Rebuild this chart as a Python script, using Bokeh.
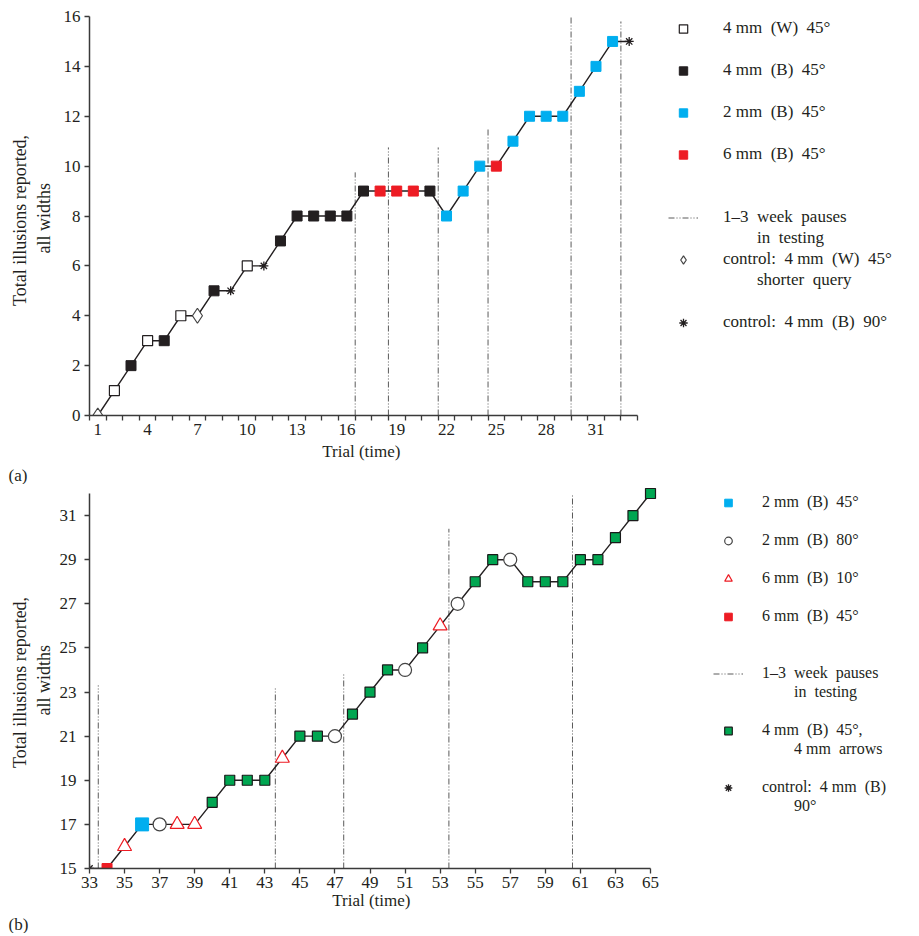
from bokeh.plotting import figure
from bokeh.models import ColumnDataSource, FixedTicker, Legend, LegendItem, Range1d
from bokeh.layouts import column
from bokeh.embed import file_html
from bokeh.resources import INLINE

FONT = "Liberation Serif"
INK = "#231f20"
AXIS = "#3a3a3a"
PAUSE = "#5a5a5a"

# ---------------- panel (a) data ----------------
trials_a = list(range(1, 34))
totals_a = [0, 1, 2, 3, 3, 4, 4, 5, 5, 6,
            6, 7, 8, 8, 8, 8, 9, 9, 9, 9,
            9, 8, 9, 10, 10, 11, 12, 12, 12, 13,
            14, 15, 15]
cond_a = ["ctrlW", "4W", "4B", "4W", "4B", "4W", "ctrlW", "4B", "ctrl90", "4W",
          "ctrl90", "4B", "4B", "4B", "4B", "4B", "4B", "6B", "6B", "6B",
          "4B", "2B", "2B", "2B", "6B", "2B", "2B", "2B", "2B", "2B",
          "2B", "2B", "ctrl90"]
pause_a_x = [16.5, 18.5, 21.5, 24.5, 29.5, 32.5]
pause_a_top = [9.75, 10.75, 10.75, 11.5, 16.0, 15.8]
xticks_a = [1, 4, 7, 10, 13, 16, 19, 22, 25, 28, 31]
yticks_a = [0, 2, 4, 6, 8, 10, 12, 14, 16]
xbounds_a = (0.5, 33.5)
ybounds_a = (0, 16)

# ---------------- panel (b) data ----------------
trials_b = list(range(33, 66))
totals_b = [15, 15, 16, 17, 17, 17, 17, 18, 19, 19,
            19, 20, 21, 21, 21, 22, 23, 24, 24, 25,
            26, 27, 28, 29, 29, 28, 28, 28, 29, 29,
            30, 31, 32]
cond_b = ["ctrl90", "6B45", "6B10", "2B45", "2B80", "6B10", "6B10", "arrows", "arrows", "arrows",
          "arrows", "6B10", "arrows", "arrows", "2B80", "arrows", "arrows", "arrows", "2B80", "arrows",
          "6B10", "2B80", "arrows", "arrows", "2B80", "arrows", "arrows", "arrows", "arrows", "arrows",
          "arrows", "arrows", "arrows"]
pause_b_x = [33.5, 43.6, 47.5, 53.5, 60.55]
pause_b_top = [23.3, 23.25, 23.8, 30.4, 32.0]
xticks_b = list(range(33, 66, 2))
yticks_b = list(range(15, 32, 2))
xbounds_b = (33, 65)
ybounds_b = (15, 32)

NB = "\u00a0"
IND = NB * 8

styles_a = {
    "4W": dict(marker="square", size=10, fill_color="white", line_color=INK, line_width=1.2),
    "4B": dict(marker="square", size=10, fill_color=INK, line_color=INK),
    "2B": dict(marker="square", size=10, fill_color="#00AEEF", line_color="#00AEEF"),
    "6B": dict(marker="square", size=10, fill_color="#ED1C24", line_color="#ED1C24"),
    "ctrlW": dict(marker="diamond", size=15, fill_color="white", line_color="#444444", line_width=1.2),
    "ctrl90": dict(marker="asterisk", size=9, line_color=INK, line_width=1.3),
}
# legend rows: (key of the glyph or None, label); "" rows are blank gaps
legend_a = [
    ("4W", "4 mm  (W)  45°"), (None, ""),
    ("4B", "4 mm  (B)  45°"), (None, ""),
    ("2B", "2 mm  (B)  45°"), (None, ""),
    ("6B", "6 mm  (B)  45°"), (None, ""), (None, ""),
    ("pause", "1–3  week  pauses"), (None, IND + "in  testing"),
    ("ctrlW", "control:  4 mm  (W)  45°"), (None, IND + "shorter  query"), (None, ""),
    ("ctrl90", "control:  4 mm  (B)  90°"),
]

styles_b = {
    "2B45": dict(marker="square", size=13, fill_color="#00AEEF", line_color="#00AEEF"),
    "2B80": dict(marker="circle", size=13, fill_color="white", line_color="#444444", line_width=1.2),
    "6B10": dict(marker="triangle", size=14, fill_color="white", line_color="#ED1C24", line_width=1.2),
    "6B45": dict(marker="square", size=10, fill_color="#ED1C24", line_color="#ED1C24"),
    "arrows": dict(marker="square", size=10, fill_color="#00A651", line_color="#1a1a1a", line_width=1.2),
    "ctrl90": dict(marker="asterisk", size=9, line_color=INK, line_width=1.3),
}
legend_b = [
    ("2B45", "2 mm  (B)  45°"), (None, ""),
    ("2B80", "2 mm  (B)  80°"), (None, ""),
    ("6B10", "6 mm  (B)  10°"), (None, ""),
    ("6B45", "6 mm  (B)  45°"), (None, ""), (None, ""),
    ("pause", "1–3  week  pauses"), (None, IND + "in  testing"), (None, ""),
    ("arrows", "4 mm  (B)  45°,"), (None, IND + "4 mm  arrows"), (None, ""),
    ("ctrl90", "control:  4 mm  (B)"), (None, IND + "90°"),
]


def build(trials, totals, cond, pause_x, pause_top, xb, yb, xpad_right, ypad_top,
          xticks, xminor, yticks, styles, legend_rows, frame_w, frame_h,
          top_border, row_h, lvx, lvy, lmargin, standoff, tag, ylab_standoff,
          ytick_standoff, xlab_standoff, legend_font):
    # only the open sides (right / top) get a few pixels of room so edge markers are not cut
    xr = Range1d(xb[0], xb[1] + xpad_right)
    yr = Range1d(yb[0], yb[1] + ypad_top)
    p = figure(frame_width=frame_w, frame_height=frame_h, x_range=xr, y_range=yr,
               output_backend="svg", toolbar_location=None,
               min_border_left=89, min_border_top=top_border,
               min_border_right=0, min_border_bottom=0,
               title=tag, title_location="below")
    p.grid.visible = False
    p.outline_line_color = None
    p.background_fill_color = "white"

    pause = p.segment(x0=pause_x, y0=[yb[0]] * len(pause_x), x1=pause_x, y1=pause_top,
                      line_color=PAUSE, line_width=1, line_dash="6 2 1 2 1 2")
    p.line(trials, totals, line_color=INK, line_width=1.4)

    rend = {"pause": pause}
    for key in styles:
        xs = [t for t, c in zip(trials, cond) if c == key]
        ys = [v for v, c in zip(totals, cond) if c == key]
        src = ColumnDataSource(dict(x=xs, y=ys))
        rend[key] = p.scatter("x", "y", source=src, **styles[key])
    blank = p.scatter(x=[], y=[], fill_alpha=0, line_alpha=0)

    items = [LegendItem(label=lab, renderers=[rend[k] if k else blank]) for k, lab in legend_rows]
    legend = Legend(items=items, location=(lvx, lvy), margin=lmargin, padding=0,
                    spacing=0, glyph_width=30, glyph_height=row_h, label_height=row_h,
                    label_standoff=standoff, label_text_font=FONT,
                    label_text_font_size=legend_font, label_text_color=INK,
                    border_line_color=None, background_fill_alpha=0)
    p.add_layout(legend, "right")

    p.xaxis.ticker = FixedTicker(ticks=xticks, minor_ticks=xminor)
    p.yaxis.ticker = FixedTicker(ticks=yticks, minor_ticks=[])
    p.xaxis.bounds = xb
    p.yaxis.bounds = yb
    for ax in (p.xaxis, p.yaxis):
        ax.axis_line_color = AXIS
        ax.axis_line_width = 1.5
        ax.major_tick_line_color = AXIS
        ax.major_tick_line_width = 1.3
        ax.major_tick_in = 0
        ax.major_tick_out = 5
        ax.minor_tick_line_color = AXIS
        ax.minor_tick_line_width = 1.3
        ax.minor_tick_in = 0
        ax.minor_tick_out = 5
        ax.major_label_text_font = FONT
        ax.major_label_text_font_size = "17px"
        ax.major_label_text_color = INK
        ax.axis_label_text_font = FONT
        ax.axis_label_text_font_size = "17px"
        ax.axis_label_text_font_style = "normal"
        ax.axis_label_text_color = INK
    p.xaxis.major_label_standoff = 3
    p.yaxis.major_label_standoff = ytick_standoff
    p.xaxis.axis_label = "Trial  (time)"
    p.yaxis.axis_label = "Total  illusions  reported,\nall  widths"
    p.yaxis.axis_label_text_font_size = "18px"
    p.xaxis.axis_label_standoff = xlab_standoff
    p.yaxis.axis_label_standoff = ylab_standoff

    p.title.text_font = FONT
    p.title.text_font_size = "17px"
    p.title.text_font_style = "normal"
    p.title.text_color = INK
    p.title.align = "left"
    p.title.offset = -81
    p.title.standoff = 0
    return p


pa = build(trials_a, totals_a, cond_a, pause_a_x, pause_a_top, xbounds_a, ybounds_a, 0, 0,
           xticks_a, [t - 0.5 for t in trials_a] + [trials_a[-1] + 0.5], yticks_a,
           styles_a, legend_a, 548, 399, 16, 21, 31, 82.5, 16, 25, "(a)", 7, 4, 4, "17px")
pa.xaxis.major_tick_line_color = None

pb = build(trials_b, totals_b, cond_b, pause_b_x, pause_b_top, xbounds_b, ybounds_b,
           7 * 32 / 561, 6 * 17 / 375,
           xticks_b, [], yticks_b,
           styles_b, legend_b, 568, 381, 3, 19, 56, 52.5, 28, 19, "(b)", 3, 8, 0, "16px")

layout = column(pa, pb)
open("out.html", "w").write(file_html(layout, INLINE))
